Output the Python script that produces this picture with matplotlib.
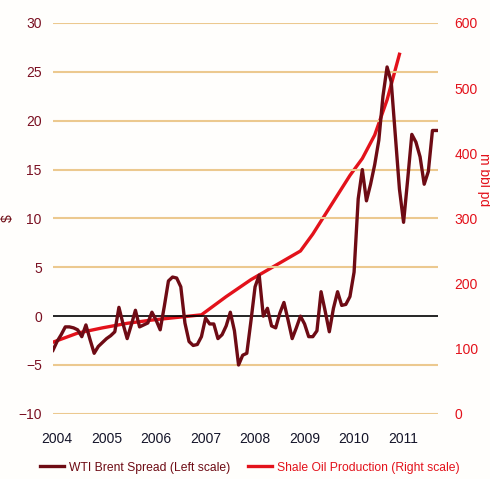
import numpy as np
import matplotlib
matplotlib.use("Agg")
from matplotlib import pyplot as plt
from matplotlib import font_manager

# fonts - narrow arial look if we have it
names = {f.name for f in font_manager.fontManager.ttflist}
fam = ['Liberation Sans Narrow', 'Liberation Sans', 'DejaVu Sans']
fam = [f for f in fam if f in names] or ['DejaVu Sans']
plt.rcParams['font.family'] = fam

# WTI - Brent spread, monthly from Jan 2004 ($)
spread = [-3.5, -2.6, -1.9, -1.1, -1.1, -1.2, -1.4, -2.1, -0.9, -2.4, -3.8, -3.1,
          -2.7, -2.3, -2.0, -1.6, 0.9, -0.8, -2.3, -0.9, 0.6, -1.1, -0.9, -0.7,
          0.4, -0.4, -1.4, 1.0, 3.6, 4.0, 3.9, 3.0, -0.7, -2.6, -3.0, -2.9,
          -2.1, -0.2, -0.8, -0.8, -2.3, -1.9, -1.0, 0.4, -1.5, -5.0, -4.0, -3.8,
          -0.5, 3.0, 4.2, 0.0, 0.8, -1.0, -1.2, 0.3, 1.4, -0.4, -2.3, -1.2,
          0.0, -0.8, -2.1, -2.1, -1.5, 2.5, 0.5, -1.6, 0.8, 2.5, 1.1, 1.2,
          2.0, 4.5, 12.0, 15.0, 11.8, 13.5, 15.5, 18.0, 22.5, 25.5, 24.0, 18.5,
          13.0, 9.6, 14.0, 18.6, 17.8, 16.3, 13.5, 14.8, 19.0, 19.0]
spread_x = 2004 + np.arange(len(spread)) / 12.0

# shale oil production (m bbl pd)
shale_x = [2004.0, 2004.5, 2005.0, 2005.5, 2006.0, 2006.5, 2007.0, 2007.5, 2008.0,
           2008.5, 2009.0, 2009.25, 2009.5, 2009.75, 2010.0, 2010.25, 2010.5, 2010.75, 2011.0]
shale = [110, 124, 132, 139, 144, 148, 152, 180, 206,
         228, 250, 276, 306, 336, 366, 392, 428, 482, 552]

years = [2004, 2005, 2006, 2007, 2008, 2009, 2010, 2011]
left_ticks = [-10, -5, 0, 5, 10, 15, 20, 25, 30]
right_ticks = [0, 100, 200, 300, 400, 500, 600]

MAROON = '#6e0b14'
RED = '#e3121b'
GRID = '#ecc98f'

fig = plt.figure(figsize=(4.9, 4.79), dpi=100)
ax = fig.add_axes([0.108, 0.136, 0.786, 0.816])
ax2 = ax.twinx()

for a in (ax, ax2):
    for s in a.spines.values():
        s.set_visible(False)
    a.tick_params(length=0)

ax.set_ylim(-10, 30)
ax.set_yticks(left_ticks)
ax.set_xlim(2004.0, 2011.78)
for t in left_ticks:
    if t == 0:
        ax.axhline(t, color='black', lw=1.2, zorder=1)
    else:
        ax.axhline(t, color=GRID, lw=1.5, zorder=0)

ax.set_xticks([y + 0.08 for y in years])
ax.set_xticklabels([str(y) for y in years], fontsize=10, color='#15152a')
ax.tick_params(axis='x', pad=13)
ax.tick_params(axis='y', labelsize=10, labelcolor='#7a1022', pad=8)
ax.set_ylabel('$', color=MAROON, fontsize=10)
ax.yaxis.set_label_coords(-0.098, 0.5)

ax2.set_ylim(0, 600)
ax2.set_yticks(right_ticks)
ax2.tick_params(axis='y', labelsize=10, labelcolor=RED, pad=12)
ax2.set_ylabel('m bbl pd', color=RED, fontsize=10, rotation=270, va='center')
ax2.yaxis.set_label_coords(1.118, 0.6)

l1, = ax.plot(spread_x, spread, color=MAROON, lw=2.4, zorder=3,
              solid_joinstyle='round', label='WTI Brent Spread (Left scale)')
l2, = ax2.plot(shale_x, shale, color=RED, lw=2.4, zorder=4,
               label='Shale Oil Production (Right scale)')
ax.set_zorder(ax2.get_zorder() + 1)
ax.patch.set_visible(False)

leg = fig.legend(handles=[l1, l2], loc='center', bbox_to_anchor=(0.51, 0.024),
                 ncol=2, frameon=False, fontsize=8.7, handlelength=2.0,
                 handletextpad=0.4, columnspacing=1.5)
leg.get_texts()[0].set_color(MAROON)
leg.get_texts()[1].set_color(RED)

fig.savefig('out.png', dpi=100, facecolor='#fffefc')
